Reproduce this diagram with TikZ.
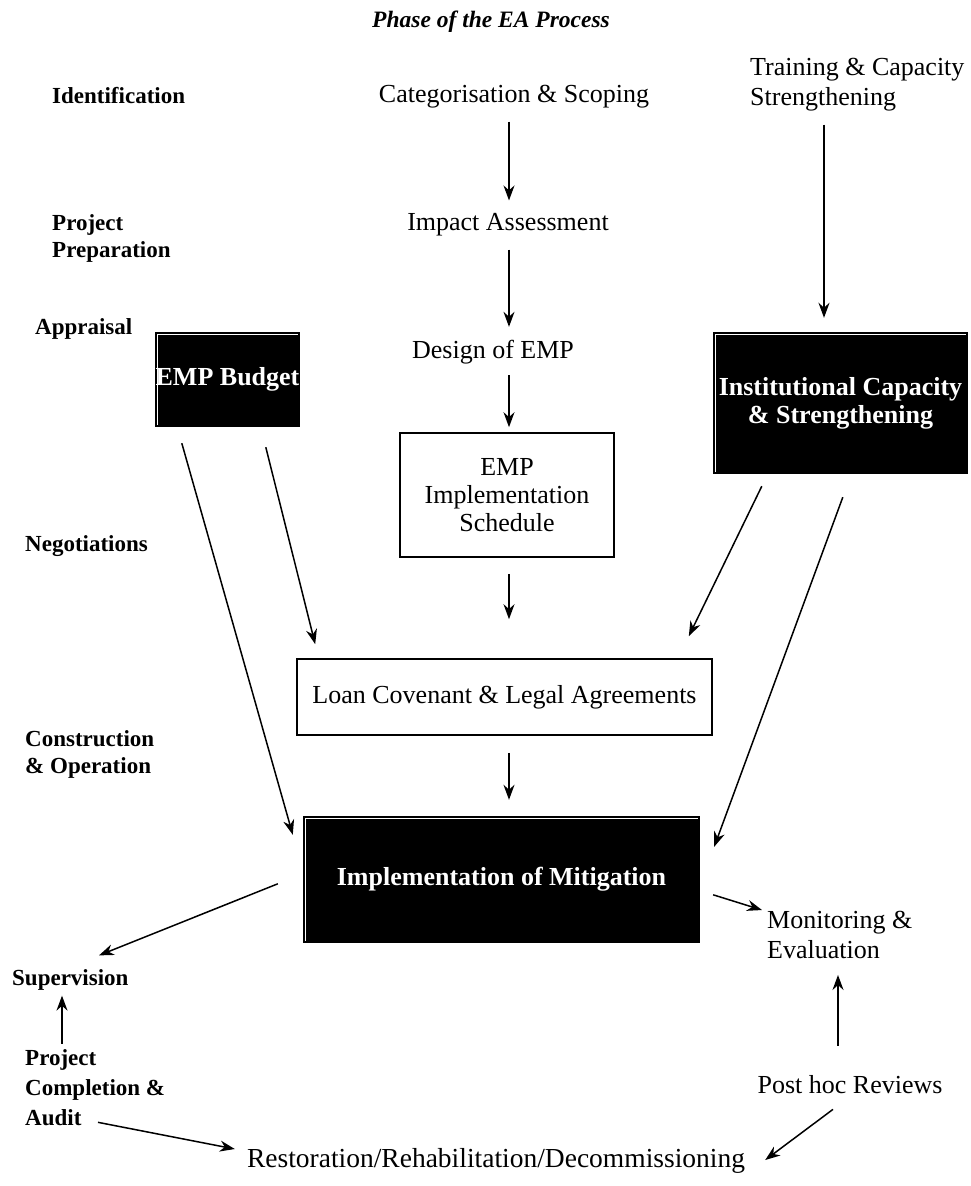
\documentclass[tikz,border=0pt]{standalone}
\usepackage{fontspec}
\setmainfont{Liberation Serif}
\usetikzlibrary{calc,arrows.meta}
\tikzset{
  lab/.style={font=\fontsize{23}{27}\selectfont\bfseries, anchor=west, align=left, inner sep=0pt},
  txt/.style={font=\fontsize{26}{30}\selectfont, inner sep=0pt},
  blk/.style={fill=black, text=white, font=\fontsize{26}{28}\selectfont\bfseries, inner sep=0pt, align=center},
  wbox/.style={draw, line width=1.6pt, inner sep=0pt, align=center, font=\fontsize{26}{28}\selectfont},
  arr/.style={-{Stealth[length=15pt,width=11pt]}, line width=1.5pt},
  inl/.style={white, line width=1.3pt}
}
\newcommand{\blkdeco}[1]{%
  \draw[inl] ([shift={(3,-2)}]#1.south west) -- ([shift={(3,3)}]#1.north west) -- ([shift={(-2,3)}]#1.north east);}
\begin{document}
\begin{tikzpicture}[x=1pt,y=-1pt]
\useasboundingbox (0,0) rectangle (971,1186);

% title
\node[font=\fontsize{23.5}{27}\selectfont\bfseries\itshape] (title) at (491,22) {Phase of the EA Process};

% phase labels
\node[lab] (ident) at (52,96) {Identification};
\node[lab] (prep) at (52,238) {Project\\Preparation};
\node[lab] (appr) at (35,329) {Appraisal};
\node[lab] (nego) at (25,546) {Negotiations};
\node[lab] (cons) at (25,754) {Construction\\\& Operation};
\node[lab] (sup) at (12,980) {Supervision};
\node[lab, font=\fontsize{23}{30}\selectfont\bfseries] (pca) at (25,1088) {Project\\Completion \&\\Audit};

% central column
\node[txt] (cat) at (514,97) {Categorisation \& Scoping};
\node[txt] (imp) at (508,225) {Impact Assessment};
\node[txt] (des) at (493,352) {Design of EMP};
\node[wbox, minimum width=214pt, minimum height=124pt] (emp) at (507,495) {EMP\\Implementation\\Schedule};
\node[wbox, minimum width=415pt, minimum height=76pt] (loan) at (504.5,697) {Loan Covenant \& Legal Agreements};
\node[blk, minimum width=397pt, minimum height=127pt] (mit) at (501.5,879.5) {Implementation of Mitigation};
\blkdeco{mit}

% left box
\node[blk, minimum width=145pt, minimum height=95pt] (bud) at (227.5,379.5) {EMP Budget};
\blkdeco{bud}

% right side
\node[txt, anchor=west, align=left] (train) at (750,85) {Training \& Capacity\\Strengthening};
\node[blk, minimum width=255pt, minimum height=142pt] (inst) at (840.5,403) {Institutional Capacity\\\& Strengthening};
\blkdeco{inst}
\node[txt, anchor=west, align=left] (mon) at (767,935) {Monitoring \&\\Evaluation};
\node[txt] (post) at (850,1085) {Post hoc Reviews};
\node[txt, font=\fontsize{27.5}{30}\selectfont] (rest) at (496,1161) {Restoration/Rehabilitation/Decommissioning};

% column coordinates
\coordinate (cx) at (509,0);
\coordinate (tx) at (824,0);
\coordinate (mx) at (838,0);
\coordinate (sx) at (62,0);

% vertical arrows
\draw[arr, shorten <=13pt, shorten >=13pt] (cat.south -| cx) -- (imp.north -| cx);
\draw[arr, shorten <=13pt, shorten >=13pt] (imp.south -| cx) -- (des.north -| cx);
\draw[arr, shorten <=11pt, shorten >=5pt] (des.south -| cx) -- (emp.north -| cx);
\draw[arr, shorten <=16pt, shorten >=39pt] (emp.south -| cx) -- (loan.north -| cx);
\draw[arr, shorten <=17pt, shorten >=16pt] (loan.south -| cx) -- (mit.north -| cx);
\draw[arr, shorten <=13pt, shorten >=14pt] (train.south -| tx) -- (inst.north -| tx);
\draw[arr, shorten <=30pt, shorten >=16pt] (post.north -| mx) -- (mon.south -| mx);
\draw[arr, shorten <=6pt, shorten >=5pt] (pca.north -| sx) -- (sup.south -| sx);

% slanted arrows
\draw[arr] ($(bud.south west)+(27,16)$) -- ($(mit.north west)+(-10,19)$);
\draw[arr] ($(bud.south west)+(111,20)$) -- ($(loan.north west)+(19,-14)$);
\draw[arr] ($(inst.south west)+(49,12)$) -- ($(loan.north east)+(-24,-22)$);
\draw[arr] ($(inst.south west)+(130,23)$) -- ($(mit.north east)+(14,31)$);
\draw[arr] ($(mit.north west)+(-25,68)$) -- ($(sup.north west)+(87,-14)$);
\draw[arr] ($(mit.north east)+(13,79)$) -- ($(mon.north west)+(-5,-1)$);
\draw[arr] ($(post.south)+(-17,15)$) -- ($(rest.east)+(20,-1)$);
\draw[arr] ($(pca.south west)+(73,-4)$) -- ($(rest.west)+(-12,-12)$);
\end{tikzpicture}
\end{document}
